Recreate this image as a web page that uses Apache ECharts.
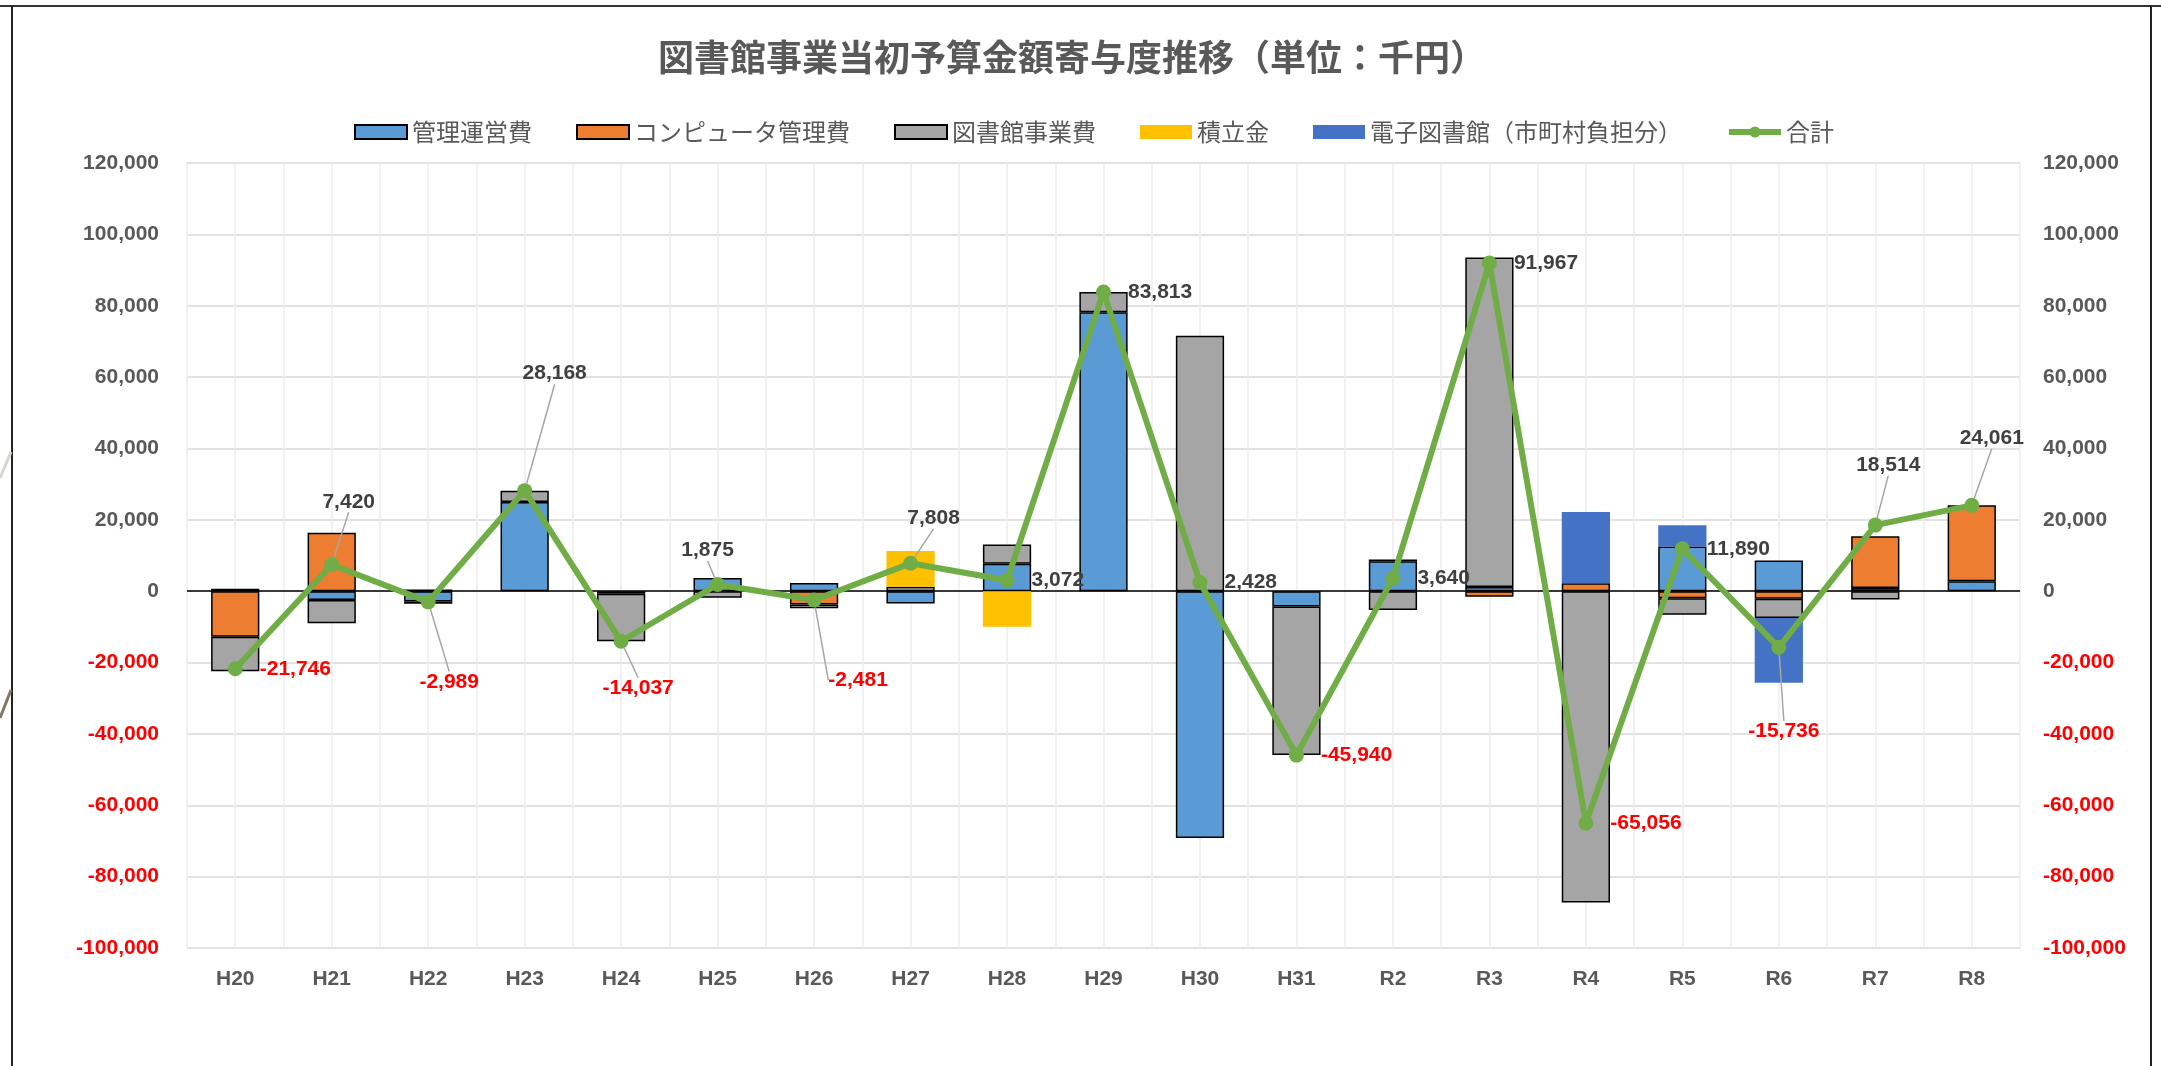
<!DOCTYPE html>
<html>
<head>
<meta charset="utf-8">
<script src="https://cdn.jsdelivr.net/npm/echarts@6/dist/echarts.min.js"></script>
<style>
html,body{margin:0;padding:0;background:#fff;}
#chart{width:2161px;height:1066px;}
</style>
</head>
<body>
<div id="chart"></div>
<script>
// ---- data ----
const categories = ['H20','H21','H22','H23','H24','H25','H26','H27','H28','H29','H30','H31','R2','R3','R4','R5','R6','R7','R8'];
const kanri     = [700, -2500, -2900, 25000, -700, 3700, 2300, -3460, 7700, 78200, -69172, -4300, 8400, 1200, null, 12500, 8600, 900, 2800];
const computer  = [-12800, 16400, 500, null, null, null, -3700, null, null, null, null, null, 500, -1533, 2200, -2000, -2150, 14500, 21261];
const jigyo     = [-9646, -6480, -589, 3168, -13337, -1825, -1081, 1268, 5372, 5613, 71600, -41640, -5260, 92300, -87256, -4610, -5400, -2300, null];
const tsumitate = [null, null, null, null, null, null, null, 10000, -10000, null, null, null, null, null, null, null, null, null, null];
const denshi    = [null, null, null, null, null, null, null, null, null, null, null, null, null, null, 20000, 6000, -18100, null, null];
const total     = [-21746, 7420, -2989, 28168, -14037, 1875, -2481, 7808, 3072, 83813, 2428, -45940, 3640, 91967, -65056, 11890, -15736, 18514, 24061];
const yMin = -100000, yMax = 120000, yInterval = 20000;

// ---- styling ----
const NUMFONT = 'Liberation Sans';
const JPFONT = 'Noto Sans CJK JP';
const fmt = v => Number(v).toLocaleString('en-US');
// label offsets (dx, dy from point) for labels with leader lines
const labelOffsets = {1:[17,-63], 2:[21,80], 3:[30,-117], 4:[17,47], 5:[-10,-34], 6:[44,80], 7:[23,-45], 16:[5,84], 17:[13,-60], 18:[20,-67]};

const chart = echarts.init(document.getElementById('chart'), null, {renderer:'canvas'});

const barBase = (name, data, color, border) => ({
  name, type:'bar', stack:'s', data, barWidth:'50%', z:2,
  itemStyle: border ? {color, borderColor:'#000', borderWidth:1.5} : {color, borderWidth:0},
  emphasis:{disabled:true}
});

const yAxisCommon = (pos, margin, split) => ({
  type:'value', position:pos, min:yMin, max:yMax, interval:yInterval,
  axisLine:{show:false}, axisTick:{show:false},
  splitLine:{show:split, lineStyle:{color:'#D9D9D9', width:1.5}},
  axisLabel:{
    margin,
    formatter: v => (v < 0 ? '{n|' : '{p|') + fmt(v) + '}',
    rich:{
      n:{color:'#FF0000', fontSize:21, fontWeight:'bold', fontFamily:NUMFONT},
      p:{color:'#595959', fontSize:21, fontWeight:'bold', fontFamily:NUMFONT}
    }
  }
});

const series1 = barBase('管理運営費', kanri, '#5B9BD5', true);
series1.markLine = {
  silent:true, symbol:['none','none'], label:{show:false}, z:2,
  lineStyle:{color:'#000', width:1.5, type:'solid'},
  data:[{yAxis:0}], animation:false
};

const option = {
  animation:false,
  backgroundColor:'#fff',
  title:{
    text:'図書館事業当初予算金額寄与度推移（単位：千円）',
    left:653, top:34,
    textStyle:{fontFamily:JPFONT, fontSize:36, fontWeight:'bold', color:'#595959'}
  },
  legend:{
    left:349, top:115, itemWidth:52, itemHeight:14, itemGap:44,
    textStyle:{fontFamily:JPFONT, fontSize:24, color:'#595959'},
    data:[
      {name:'管理運営費', icon:'rect'},
      {name:'コンピュータ管理費', icon:'rect'},
      {name:'図書館事業費', icon:'rect'},
      {name:'積立金', icon:'rect'},
      {name:'電子図書館（市町村負担分）', icon:'rect'},
      {name:'合計', lineStyle:{width:6, color:'#70AD47'}}
    ]
  },
  grid:{left:187, right:141, top:163, bottom:118, containLabel:false},
  xAxis:[
    {
      type:'category', data:categories, boundaryGap:true,
      axisLine:{show:false}, axisTick:{show:false}, splitLine:{show:false},
      axisLabel:{margin:21, color:'#595959', fontSize:21, fontWeight:'bold', fontFamily:NUMFONT}
    },
    {
      type:'value', min:0, max:categories.length, interval:0.5, position:'top',
      axisLine:{show:false}, axisTick:{show:false}, axisLabel:{show:false},
      splitLine:{show:true, lineStyle:{color:'#EDEDED', width:1.5}}
    }
  ],
  yAxis:[ yAxisCommon('left', 28, true), yAxisCommon('right', 23, false) ],
  series:[
    series1,
    barBase('コンピュータ管理費', computer, '#ED7D31', true),
    barBase('図書館事業費', jigyo, '#A5A5A5', true),
    barBase('積立金', tsumitate, '#FFC000', false),
    barBase('電子図書館（市町村負担分）', denshi, '#4472C4', false),
    {
      name:'合計', type:'line', yAxisIndex:1, z:4,
      symbol:'circle', symbolSize:15,
      lineStyle:{color:'#70AD47', width:6},
      itemStyle:{color:'#70AD47'},
      emphasis:{disabled:true},
      data: total.map((v,i) => ({
        value:v,
        label:{position: labelOffsets[i] ? 'inside' : 'right', distance:17, color: v < 0 ? '#FF0000' : '#404040'},
        labelLine:{show: !!labelOffsets[i]}
      })),
      label:{
        show:true, fontSize:21, fontWeight:'bold', fontFamily:NUMFONT,
        formatter: p => fmt(p.value)
      },
      labelLine:{show:false, lineStyle:{color:'#A6A6A6', width:1.5}},
      labelLayout: p => {
        const off = labelOffsets[p.dataIndex];
        return off ? {dx:off[0], dy:off[1]} : {};
      }
    }
  ],
  graphic:[
    {type:'line', shape:{x1:0, y1:6, x2:2161, y2:6}, style:{stroke:'#333', lineWidth:2}, silent:true},
    {type:'line', shape:{x1:12, y1:6, x2:12, y2:1066}, style:{stroke:'#222', lineWidth:2}, silent:true},
    {type:'line', shape:{x1:2151, y1:6, x2:2151, y2:1066}, style:{stroke:'#222', lineWidth:2}, silent:true},
    {type:'line', shape:{x1:0, y1:478, x2:11, y2:452}, style:{stroke:'#D8D6CE', lineWidth:3}, silent:true},
    {type:'line', shape:{x1:0, y1:718, x2:11, y2:690}, style:{stroke:'#7F7862', lineWidth:3}, silent:true}
  ]
};
chart.setOption(option);
</script>
</body>
</html>
